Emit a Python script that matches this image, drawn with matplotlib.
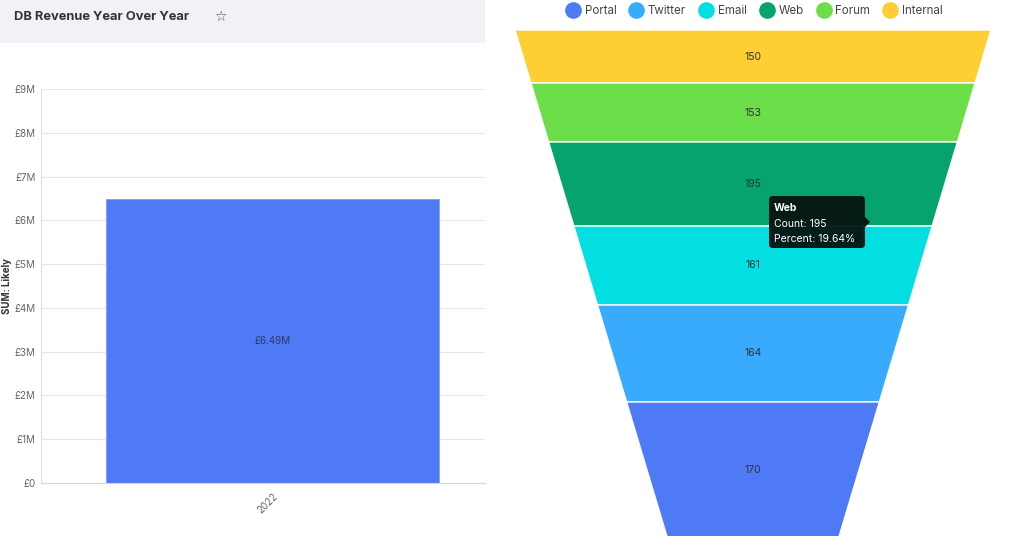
import matplotlib
matplotlib.use("Agg")
import matplotlib.pyplot as plt
from matplotlib.patches import Rectangle, Polygon, FancyBboxPatch
from matplotlib.lines import Line2D
from matplotlib.ticker import FuncFormatter, MultipleLocator

plt.rcParams['font.family'] = ['Inter', 'DejaVu Sans']

# ---------------- data ----------------
title = "DB Revenue Year Over Year"
bar_categories = ["2022"]
bar_values = [6.49e6]
y_label = "SUM: Likely"

funnel_labels = ["Internal", "Forum", "Web", "Email", "Twitter", "Portal"]
funnel_counts = [150, 153, 195, 161, 164, 170]
legend_order = ["Portal", "Twitter", "Email", "Web", "Forum", "Internal"]
tooltip_item = "Web"

# ---------------- style ----------------
colors = {"Portal": "#4f7af6", "Twitter": "#39abfd", "Email": "#03dfe0",
          "Web": "#07a36f", "Forum": "#6bde4a", "Internal": "#fecf33"}
bar_color = "#4f7af6"
seg_heights = [53, 59, 84, 79, 97, 136]   # layout (pixel heights of funnel bands)

W, H = 1024, 536
fig = plt.figure(figsize=(W / 100, H / 100), dpi=100)
fig.patch.set_facecolor("white")

def fx(px):
    return px / W

def fy(py):
    return 1 - py / H

# header band
fig.patches.append(Rectangle((0, fy(43)), fx(485), 43 / H, transform=fig.transFigure,
                             facecolor="#f0f2f5", edgecolor="none", zorder=0))
fig.text(fx(14), fy(17), title, fontsize=9.3, fontweight="bold", color="#333333",
         va="center", ha="left")
fig.text(fx(220), fy(17), "\u2606", fontsize=10, color="#555555", va="center", ha="center",
         family=["DejaVu Sans"])

# ---------------- bar chart ----------------
ax = fig.add_axes([fx(41), fy(483), fx(485 - 41), (483 - 89) / H])
xpos = range(len(bar_categories))
bars = ax.bar(xpos, bar_values, width=0.75, color=bar_color, edgecolor="#7f9ff8",
              linewidth=0.6, zorder=2)
ax.set_xlim(-0.521, len(bar_categories) - 0.521)
ax.set_ylim(0, 9e6)
ax.yaxis.set_major_locator(MultipleLocator(1e6))
ax.yaxis.set_major_formatter(FuncFormatter(lambda v, p: "£0" if v == 0 else f"£{v/1e6:.0f}M"))
ax.grid(axis="y", color="#e6e6e6", linewidth=0.8, zorder=0)
ax.set_axisbelow(True)
for s in ["top", "right"]:
    ax.spines[s].set_visible(False)
ax.spines["left"].set_color("#e0e0e0")
ax.spines["bottom"].set_color("#d6d6d6")
ax.tick_params(axis="y", length=0, labelsize=7, labelcolor="#666666", pad=4)
ax.tick_params(axis="x", length=0, labelsize=7, labelcolor="#666666", pad=6)
ax.set_xticks(list(xpos))
ax.set_xticklabels(bar_categories, rotation=45, ha="right", rotation_mode="anchor")
for i, v in enumerate(bar_values):
    ax.text(i, v / 2, f"£{v/1e6:.2f}M", ha="center", va="center", fontsize=7, color="#2b3a66")
fig.text(fx(7), fy(286), y_label, rotation=90, fontsize=7, fontweight="bold",
         color="#333333", ha="center", va="center")

# ---------------- funnel ----------------
fax = fig.add_axes([fx(490), 0, fx(W - 490), 1])
fax.set_xlim(490 - 753, W - 753)
fax.set_ylim(H, 0)
fax.axis("off")
top_y = 30
top_half = 238
slope = 0.30
total = sum(funnel_counts)
y = top_y
seg_info = {}
for lab, cnt, h in zip(funnel_labels, funnel_counts, seg_heights):
    y0, y1 = y, y + h
    ha_ = top_half - slope * (y0 - top_y)
    hb_ = top_half - slope * (y1 - top_y)
    poly = Polygon([(-ha_, y0), (ha_, y0), (hb_, y1), (-hb_, y1)], closed=True,
                   facecolor=colors[lab], edgecolor="white", linewidth=1.0, zorder=2)
    fax.add_patch(poly)
    fax.text(0, (y0 + y1) / 2, str(cnt), ha="center", va="center", fontsize=7.5,
             color="#333333", zorder=3)
    seg_info[lab] = (cnt, y0, y1)
    y = y1

# tooltip
cnt = seg_info[tooltip_item][0]
tx0, ty0, tw, th = 769 - 753, 196, 96, 52
box = FancyBboxPatch((tx0, ty0), tw, th, boxstyle="round,pad=0,rounding_size=4",
                     facecolor="#05140f", edgecolor="none", alpha=0.95, zorder=5)
fax.add_patch(box)
fax.add_patch(Polygon([(tx0 + tw, 217), (tx0 + tw + 5, 222), (tx0 + tw, 227)],
                      closed=True, facecolor="#05140f", edgecolor="none", zorder=5))
fax.text(tx0 + 5, 208, tooltip_item, fontsize=7.5, fontweight="bold", color="white",
         va="center", ha="left", zorder=6)
fax.text(tx0 + 5, 224, f"Count: {cnt}", fontsize=7.5, color="white", va="center",
         ha="left", zorder=6)
fax.text(tx0 + 5, 239, f"Percent: {cnt / total * 100:.2f}%", fontsize=7.5, color="white",
         va="center", ha="left", zorder=6)

# legend
handles = [Line2D([0], [0], marker="o", linestyle="none", markersize=12,
                  markerfacecolor=colors[l], markeredgecolor="none") for l in legend_order]
fig.legend(handles, legend_order, loc="center", bbox_to_anchor=(fx(754), fy(11.5)),
           ncol=6, frameon=False, fontsize=8.3, labelcolor="#444444", handletextpad=0.35,
           columnspacing=1.1, handlelength=1.3)

fig.savefig("out.png", dpi=100)
